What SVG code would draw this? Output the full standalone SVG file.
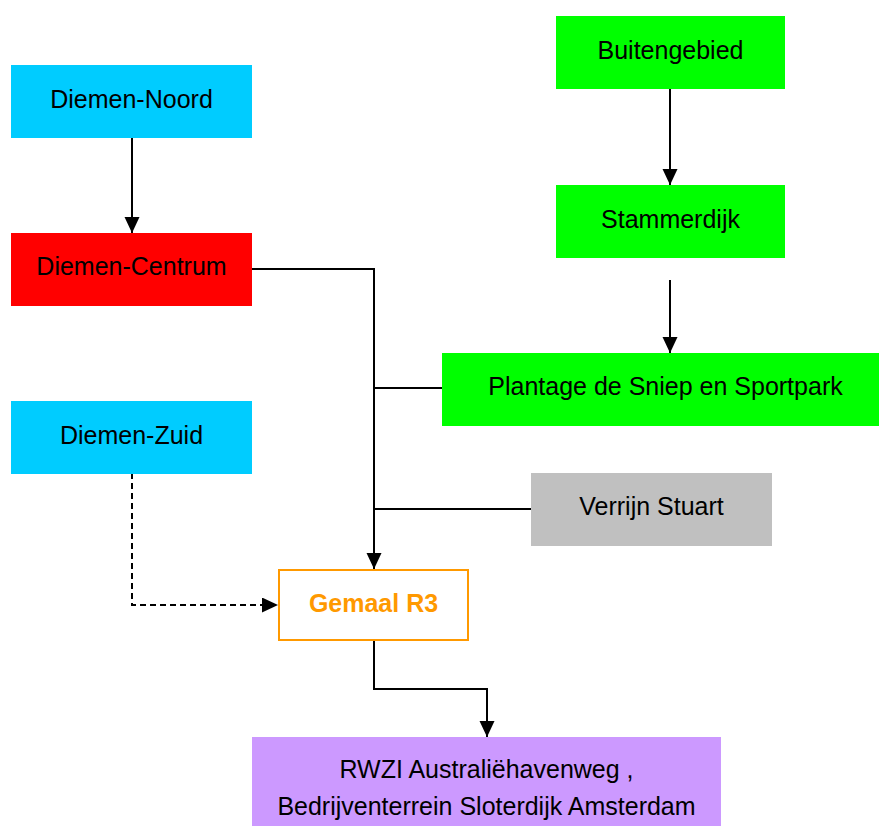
<svg xmlns="http://www.w3.org/2000/svg" width="879" height="826" viewBox="0 0 879 826">
<style>
  text { font-family: "Liberation Sans", Arial, sans-serif; font-size: 25px; fill: #000; text-anchor: middle; }
  .ln { fill: none; stroke: #000; stroke-width: 2; }
  .dash { stroke-dasharray: 6 4; }
  .arr { marker-end: url(#ah); }
  .bold { font-weight: bold; fill: #FF9900; }
</style>
<defs>
  <marker id="ah" markerUnits="userSpaceOnUse" markerWidth="16" markerHeight="16" refX="16" refY="7.5" orient="auto">
    <path d="M0,0 L16,7.5 L0,15 Z" fill="#000"/>
  </marker>
</defs>
<rect width="879" height="826" fill="#fff"/>
<g id="connectors">
  <path class="ln arr" d="M132,137 V233"/>
  <path class="ln arr" d="M670,89 V185"/>
  <path class="ln arr" d="M670,280 V353"/>
  <path class="ln arr" d="M252,269 H374 V569"/>
  <path class="ln" d="M442,388 H374"/>
  <path class="ln" d="M531,509 H374"/>
  <path class="ln dash arr" d="M132,473 V605 H278"/>
  <path class="ln arr" d="M374,641 V689 H487 V737"/>
</g>
<g id="diemen-noord">
  <rect x="11" y="65" width="241" height="73" fill="#00CCFF"/>
  <text x="131.5" y="107.5">Diemen-Noord</text>
</g>
<g id="diemen-centrum">
  <rect x="11" y="233" width="241" height="73" fill="#FF0000"/>
  <text x="131.5" y="275">Diemen-Centrum</text>
</g>
<g id="diemen-zuid">
  <rect x="11" y="401" width="241" height="73" fill="#00CCFF"/>
  <text x="131.5" y="443.5">Diemen-Zuid</text>
</g>
<g id="buitengebied">
  <rect x="556" y="16" width="229" height="73" fill="#00FF00"/>
  <text x="670.5" y="59">Buitengebied</text>
</g>
<g id="stammerdijk">
  <rect x="556" y="185" width="229" height="73" fill="#00FF00"/>
  <text x="670.5" y="228">Stammerdijk</text>
</g>
<g id="plantage">
  <rect x="442" y="353" width="447" height="73" fill="#00FF00"/>
  <text x="665.5" y="395">Plantage de Sniep en Sportpark</text>
</g>
<g id="verrijn-stuart">
  <rect x="531" y="473" width="241" height="73" fill="#C0C0C0"/>
  <text x="651.5" y="515">Verrijn Stuart</text>
</g>
<g id="gemaal-r3">
  <rect x="279" y="570" width="189" height="70" fill="#fff" stroke="#FF9900" stroke-width="2"/>
  <text class="bold" x="373.5" y="612">Gemaal R3</text>
</g>
<g id="rwzi">
  <rect x="252" y="737" width="469" height="95" fill="#CC99FF"/>
  <text x="486.5" y="778">RWZI Australiëhavenweg ,</text>
  <text x="486.5" y="815">Bedrijventerrein Sloterdijk Amsterdam</text>
</g>
</svg>
